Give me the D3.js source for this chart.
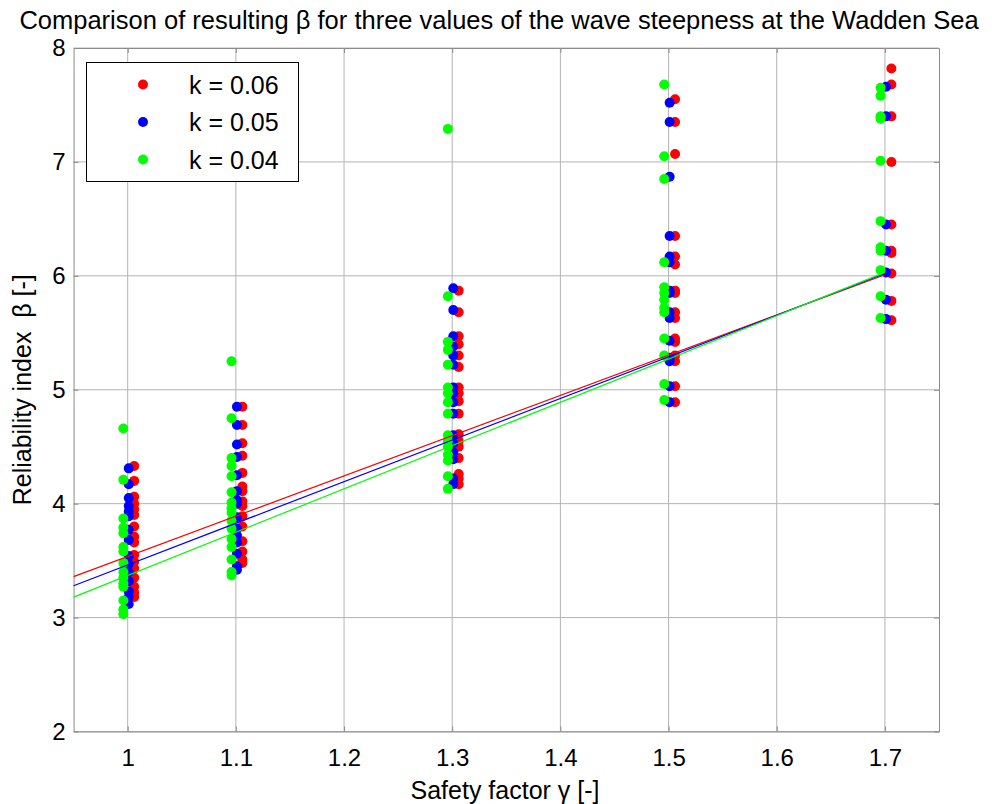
<!DOCTYPE html>
<html>
<head>
<meta charset="utf-8">
<script src="https://cdn.jsdelivr.net/npm/d3@7"></script>
<style>
  body { margin: 0; background: #fff; }
  text { font-family: "Liberation Sans", Arial, sans-serif; fill: #000; white-space: pre; }
</style>
</head>
<body>
<div id="chart"></div>
<script>
// safety factors used in the runs
const gammas = [1, 1.1, 1.3, 1.5, 1.7];
const seriesNames = ["k = 0.06", "k = 0.05", "k = 0.04"];
const seriesColors = ["#ff0000", "#0000ff", "#00ff00"];
// small shift along gamma so the three series do not sit on top of each other
const gammaShift = [0.006, 0.001, -0.004];

// beta values per gamma
const betaK06 = [
  [4.33, 4.20, 4.06, 4.00, 3.95, 3.90, 3.80, 3.71, 3.66, 3.55, 3.49, 3.43, 3.35, 3.27, 3.22, 3.18],
  [4.85, 4.69, 4.53, 4.42, 4.27, 4.15, 4.11, 4.02, 3.98, 3.89, 3.80, 3.67, 3.58, 3.51, 3.48],
  [5.87, 5.68, 5.47, 5.40, 5.30, 5.20, 5.02, 4.97, 4.90, 4.79, 4.61, 4.55, 4.50, 4.40, 4.26, 4.22, 4.17],
  [7.55, 7.35, 7.07, 6.35, 6.17, 6.10, 5.87, 5.85, 5.68, 5.63, 5.45, 5.42, 5.30, 5.25, 5.03, 4.89],
  [7.82, 7.68, 7.40, 7.00, 6.45, 6.22, 6.20, 6.02, 5.78, 5.61]
];
const betaK05 = [
  [4.31, 4.17, 4.05, 3.98, 3.93, 3.89, 3.77, 3.68, 3.54, 3.47, 3.40, 3.32, 3.23, 3.18, 3.12],
  [4.85, 4.69, 4.52, 4.41, 4.25, 4.11, 4.03, 4.00, 3.88, 3.78, 3.72, 3.66, 3.56, 3.45, 3.42],
  [5.89, 5.70, 5.47, 5.38, 5.30, 5.22, 5.02, 4.97, 4.89, 4.79, 4.60, 4.53, 4.45, 4.39, 4.22, 4.17],
  [7.52, 7.35, 6.87, 6.35, 6.17, 6.12, 5.87, 5.85, 5.68, 5.63, 5.43, 5.28, 5.25, 5.03, 4.89],
  [7.66, 7.40, 6.45, 6.22, 6.03, 5.79, 5.62]
];
const betaK04 = [
  [4.66, 4.21, 3.87, 3.79, 3.74, 3.62, 3.58, 3.48, 3.40, 3.35, 3.30, 3.27, 3.15, 3.07, 3.03],
  [5.25, 4.75, 4.40, 4.33, 4.24, 4.10, 4.01, 3.96, 3.92, 3.85, 3.78, 3.69, 3.62, 3.51, 3.40, 3.37],
  [7.29, 5.82, 5.42, 5.35, 5.22, 5.02, 4.97, 4.89, 4.79, 4.60, 4.55, 4.50, 4.43, 4.38, 4.24, 4.13],
  [7.68, 7.05, 6.85, 6.12, 5.90, 5.85, 5.79, 5.72, 5.68, 5.45, 5.30, 5.05, 4.91],
  [7.65, 7.58, 7.40, 7.38, 7.01, 6.48, 6.25, 6.22, 6.05, 5.82, 5.63]
];
const allBetas = [betaK06, betaK05, betaK04];

// fitted straight lines, begin and end
const fitGamma = [0.95, 1.7];
const fitK06 = [3.36, 6.01];
const fitK05 = [3.28, 6.02];
const fitK04 = [3.18, 6.03];
const allFits = [fitK06, fitK05, fitK04];

const xTicks = [1, 1.1, 1.2, 1.3, 1.4, 1.5, 1.6, 1.7];
const yTicks = [2, 3, 4, 5, 6, 7, 8];

const width = 992, height = 804;
const margin = {top: 48, right: 53, bottom: 72.5, left: 73.6};

const svg = d3.select("#chart").append("svg")
  .attr("width", width)
  .attr("height", height);

const x = d3.scaleLinear()
  .domain([0.95, 1.75])
  .range([margin.left, width - margin.right]);

const y = d3.scaleLinear()
  .domain([2, 8])
  .range([height - margin.bottom, margin.top]);

const axisColor = "#8c8c8c";
const gridColor = "#b4b4b4";

// grid
svg.append("g").selectAll("line.gx")
  .data(xTicks).enter().append("line")
  .attr("x1", d => x(d)).attr("x2", d => x(d))
  .attr("y1", y(2)).attr("y2", y(8))
  .attr("stroke", gridColor).attr("stroke-width", 1);
svg.append("g").selectAll("line.gy")
  .data(yTicks).enter().append("line")
  .attr("x1", x(0.95)).attr("x2", x(1.75))
  .attr("y1", d => y(d)).attr("y2", d => y(d))
  .attr("stroke", gridColor).attr("stroke-width", 1);

// axes (box on all four sides, ticks inside)
const bottomAxis = svg.append("g")
  .attr("transform", `translate(0,${y(2)})`)
  .call(d3.axisBottom(x).tickValues(xTicks).tickSizeInner(-5).tickSizeOuter(0).tickPadding(17).tickFormat(d3.format("")));
const topAxis = svg.append("g")
  .attr("transform", `translate(0,${y(8)})`)
  .call(d3.axisTop(x).tickValues(xTicks).tickSizeInner(-5).tickSizeOuter(0).tickFormat(""));
const leftAxis = svg.append("g")
  .attr("transform", `translate(${x(0.95)},0)`)
  .call(d3.axisLeft(y).tickValues(yTicks).tickSizeInner(-5).tickSizeOuter(0).tickPadding(8).tickFormat(d3.format("d")));
const rightAxis = svg.append("g")
  .attr("transform", `translate(${x(1.75)},0)`)
  .call(d3.axisRight(y).tickValues(yTicks).tickSizeInner(-5).tickSizeOuter(0).tickFormat(""));

[bottomAxis, topAxis, leftAxis, rightAxis].forEach(g => {
  g.select(".domain").attr("stroke", axisColor);
  g.selectAll(".tick line").attr("stroke", axisColor);
  g.selectAll("text")
    .style("font-family", '"Liberation Sans", Arial, sans-serif')
    .style("font-size", "24px")
    .attr("fill", "#000");
});

// scatter points, red then blue then green on top
allBetas.forEach((series, s) => {
  const pts = [];
  series.forEach((vals, i) => vals.forEach(v => pts.push({g: gammas[i] + gammaShift[s], b: v})));
  svg.append("g").selectAll("circle")
    .data(pts).enter().append("circle")
    .attr("cx", d => x(d.g))
    .attr("cy", d => y(d.b))
    .attr("r", 5)
    .attr("fill", seriesColors[s]);
});

// fitted lines
allFits.forEach((fit, s) => {
  svg.append("line")
    .attr("x1", x(fitGamma[0])).attr("y1", y(fit[0]))
    .attr("x2", x(fitGamma[1])).attr("y2", y(fit[1]))
    .attr("stroke", seriesColors[s])
    .attr("stroke-width", 1.2);
});

// legend
const legend = svg.append("g");
legend.append("rect")
  .attr("x", 86.5).attr("y", 62.5)
  .attr("width", 212).attr("height", 119)
  .attr("fill", "#fff")
  .attr("stroke", "#000")
  .attr("stroke-width", 1);
seriesNames.forEach((name, s) => {
  const cy = 84.5 + s * 37.5;
  legend.append("circle")
    .attr("cx", 143).attr("cy", cy).attr("r", 5)
    .attr("fill", seriesColors[s]);
  legend.append("text")
    .attr("x", 189).attr("y", cy + 9)
    .style("font-size", "25px")
    .text(name);
});

// title and axis labels
svg.append("text")
  .attr("x", 499).attr("y", 29)
  .attr("text-anchor", "middle")
  .style("font-size", "25.5px")
  .text("Comparison of resulting \u03b2 for three values of the wave steepness at the Wadden Sea");

svg.append("text")
  .attr("x", 505).attr("y", 799)
  .attr("text-anchor", "middle")
  .style("font-size", "25px")
  .text("Safety factor \u03b3 [-]");

svg.append("text")
  .attr("transform", `translate(31,${(y(2) + y(8)) / 2}) rotate(-90)`)
  .attr("text-anchor", "middle")
  .style("font-size", "25px")
  .text("Reliability index  \u03b2 [-]");
</script>
</body>
</html>
